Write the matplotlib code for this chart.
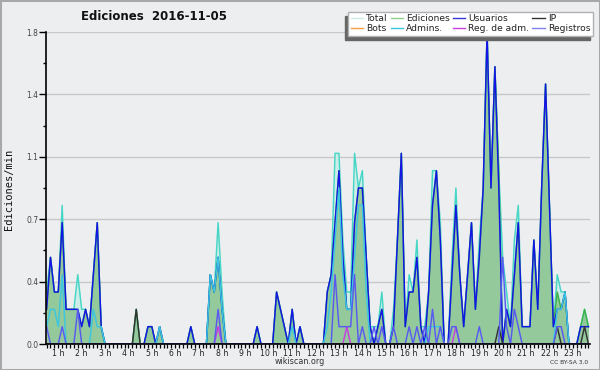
import numpy as np
import matplotlib
matplotlib.use("Agg")
import matplotlib.pyplot as plt
from matplotlib.lines import Line2D
from matplotlib.patches import Rectangle
from matplotlib.ticker import FixedLocator, FuncFormatter

# ---- data (10-minute bins, edits per minute) ----
hours = list(range(1, 24))
hour_labels = [f"{h} h" for h in hours]

total = [0.3, 0.5, 0.3, 0.3, 0.8, 0.2, 0.2, 0.2, 0.4, 0.2,
         0.2, 0.1, 0.4, 0.7, 0.1, 0, 0, 0, 0, 0,
         0, 0, 0, 0.2, 0, 0, 0.1, 0.1, 0, 0.1,
         0, 0, 0, 0, 0, 0, 0, 0.1, 0, 0,
         0, 0, 0.4, 0.3, 0.7, 0.3, 0, 0, 0, 0,
         0, 0, 0, 0, 0.1, 0, 0, 0, 0, 0.3,
         0.2, 0.1, 0, 0.2, 0, 0.1, 0, 0, 0, 0,
         0, 0, 0.3, 0.4, 1.1, 1.1, 0.6, 0.3, 0.3, 1.1,
         0.9, 1.0, 0.5, 0.1, 0.1, 0.1, 0.3, 0, 0, 0.2,
         0.6, 1.1, 0.1, 0.4, 0.3, 0.6, 0.1, 0.1, 0.3, 1.0,
         1.0, 0.7, 0, 0, 0.5, 0.9, 0.4, 0.1, 0.4, 0.7,
         0.2, 0.6, 0.9, 1.8, 0.9, 1.6, 1.0, 0.5, 0.3, 0.1,
         0.6, 0.8, 0.1, 0.1, 0.1, 0.6, 0.2, 0.9, 1.5, 0.8,
         0.1, 0.4, 0.3, 0.3, 0, 0, 0, 0.1, 0.2, 0.1]

ediciones = [0.2, 0.5, 0.3, 0.3, 0.7, 0.2, 0.2, 0.2, 0.2, 0.1,
             0.2, 0.1, 0.4, 0.7, 0.1, 0, 0, 0, 0, 0,
             0, 0, 0, 0.2, 0, 0, 0.1, 0.1, 0, 0.1,
             0, 0, 0, 0, 0, 0, 0, 0.1, 0, 0,
             0, 0, 0.4, 0.3, 0.5, 0.2, 0, 0, 0, 0,
             0, 0, 0, 0, 0.1, 0, 0, 0, 0, 0.3,
             0.2, 0.1, 0, 0.2, 0, 0.1, 0, 0, 0, 0,
             0, 0, 0.3, 0.4, 0.7, 1.0, 0.5, 0.2, 0.2, 0.7,
             0.9, 0.9, 0.5, 0.1, 0, 0.1, 0.2, 0, 0, 0.1,
             0.6, 1.1, 0.1, 0.3, 0.3, 0.5, 0.1, 0, 0.3, 0.8,
             1.0, 0.6, 0, 0, 0.4, 0.8, 0.4, 0.1, 0.4, 0.7,
             0.2, 0.5, 0.9, 1.8, 0.9, 1.6, 1.0, 0, 0.2, 0.1,
             0.4, 0.7, 0.1, 0.1, 0.1, 0.6, 0.2, 0.9, 1.5, 0.8,
             0.1, 0.3, 0.2, 0.3, 0, 0, 0, 0.1, 0.2, 0.1]

usuarios = [0.2, 0.5, 0.3, 0.3, 0.7, 0.2, 0.2, 0.2, 0.2, 0.1,
            0.2, 0.1, 0.4, 0.7, 0.1, 0, 0, 0, 0, 0,
            0, 0, 0, 0, 0, 0, 0.1, 0.1, 0, 0.1,
            0, 0, 0, 0, 0, 0, 0, 0.1, 0, 0,
            0, 0, 0.4, 0.3, 0.5, 0.2, 0, 0, 0, 0,
            0, 0, 0, 0, 0.1, 0, 0, 0, 0, 0.3,
            0.2, 0.1, 0, 0.2, 0, 0.1, 0, 0, 0, 0,
            0, 0, 0.3, 0.4, 0.7, 1.0, 0.5, 0.2, 0.2, 0.7,
            0.9, 0.9, 0.5, 0.1, 0, 0.1, 0.2, 0, 0, 0.1,
            0.6, 1.1, 0.1, 0.3, 0.3, 0.5, 0.1, 0, 0.3, 0.8,
            1.0, 0.6, 0, 0, 0.4, 0.8, 0.4, 0.1, 0.4, 0.7,
            0.2, 0.5, 0.9, 1.8, 0.9, 1.6, 0.9, 0, 0.2, 0.1,
            0.4, 0.7, 0.1, 0.1, 0.1, 0.6, 0.2, 0.9, 1.5, 0.8,
            0.1, 0.2, 0.2, 0.3, 0, 0, 0, 0.1, 0.1, 0.1]

ip = [0] * 23 + [0.2] + [0] * 92 + [0.1] + [0] * 14 + [0.1] + [0] * 6 + [0.1, 0]

bots = [0] * 140

admins = [0.1, 0.2, 0.2, 0.1, 0.4, 0, 0, 0, 0, 0,
          0, 0, 0.2, 0.1, 0.1, 0, 0, 0, 0, 0,
          0, 0, 0, 0, 0, 0, 0, 0, 0, 0.1,
          0, 0, 0, 0, 0, 0, 0, 0, 0, 0,
          0, 0, 0.4, 0.3, 0.5, 0.2, 0, 0, 0, 0,
          0, 0, 0, 0, 0, 0, 0, 0, 0, 0,
          0, 0, 0, 0.1, 0, 0, 0, 0, 0, 0,
          0, 0, 0.1, 0.3, 0.6, 0.9, 0.4, 0.2, 0.2, 0.5,
          0.8, 0.8, 0.3, 0, 0, 0, 0, 0, 0, 0,
          0, 0, 0, 0, 0, 0, 0, 0, 0.1, 0.1,
          0.1, 0.1, 0, 0, 0, 0, 0, 0, 0, 0,
          0, 0, 0, 0, 0, 0, 0, 0, 0, 0,
          0, 0, 0, 0, 0, 0, 0, 0, 0, 0,
          0, 0.2, 0.2, 0.3, 0, 0, 0, 0, 0, 0]

reg_adm = [0] * 44 + [0.1] + [0] * 32 + [0.1] + [0] * 27 + [0.1] + [0] * 34

registros = [0.1, 0, 0, 0, 0.1, 0, 0, 0, 0.2, 0,
             0, 0, 0, 0, 0, 0, 0, 0, 0, 0,
             0, 0, 0, 0, 0, 0, 0, 0, 0, 0,
             0, 0, 0, 0, 0, 0, 0, 0, 0, 0,
             0, 0, 0, 0, 0.2, 0, 0, 0, 0, 0,
             0, 0, 0, 0, 0, 0, 0, 0, 0, 0,
             0, 0, 0, 0, 0, 0, 0, 0, 0, 0,
             0, 0, 0, 0, 0.4, 0.1, 0.1, 0.1, 0.1, 0.4,
             0, 0.1, 0, 0, 0.1, 0, 0.1, 0, 0, 0.1,
             0, 0, 0, 0.1, 0, 0.1, 0, 0.1, 0, 0.2,
             0, 0.1, 0, 0, 0.1, 0.1, 0, 0, 0, 0,
             0, 0.1, 0, 0, 0, 0, 0, 0.5, 0.1, 0,
             0.2, 0.1, 0, 0, 0, 0, 0, 0, 0, 0,
             0, 0.1, 0.1, 0, 0, 0, 0, 0, 0, 0]

series_labels = ["Total", "Ediciones", "Usuarios", "IP",
                 "Bots", "Admins.", "Reg. de adm.", "Registros"]

# ---- styling ----
BG = "#edeef0"
c_total_fill = "#cdeee8"
c_total_line = "#45d6c6"
c_ed_fill = "#93c99b"
c_ed_line = "#3db24a"
c_us = "#1414e6"
c_ip = "#333333"
c_bots = "#f4a040"
c_adm = "#3cc6e0"
c_regadm = "#c83ee0"
c_reg = "#5a5af0"

fig = plt.figure(figsize=(6, 3.7), dpi=100, facecolor=BG)
ax = fig.add_axes([46 / 600, 1 - 344 / 370, 544 / 600, 312 / 370], facecolor=BG)

x = np.arange(len(total))

ax.fill_between(x, total, color=c_total_fill, lw=0, zorder=1)
ax.fill_between(x, ediciones, color=c_ed_fill, lw=0, zorder=1.1)
lw = 1.05
ax.plot(x, total, color=c_total_line, lw=lw, zorder=2)
ax.plot(x, ediciones, color=c_ed_line, lw=lw, zorder=2.1)
ax.plot(x, usuarios, color=c_us, lw=lw, zorder=2.2)
ax.plot(x, ip, color=c_ip, lw=lw, zorder=2.3)
ax.plot(x, bots, color=c_bots, lw=lw, zorder=2.0)
ax.plot(x, admins, color=c_adm, lw=lw, zorder=2.4)
ax.plot(x, reg_adm, color=c_regadm, lw=lw, zorder=2.5)
ax.plot(x, registros, color=c_reg, lw=lw, zorder=2.6)

ax.set_xlim(-0.15, 139.4)
ax.set_ylim(0, 1.8)

# y axis
yt = [0, 0.36, 0.72, 1.08, 1.44, 1.8]
ax.yaxis.set_major_locator(FixedLocator(yt))
ax.yaxis.set_minor_locator(FixedLocator([0.18, 0.54, 0.9, 1.26, 1.62]))
ax.yaxis.set_major_formatter(FuncFormatter(lambda v, p: f"{v:.1f}"))
ax.tick_params(axis="y", which="major", length=5, width=1, color="black",
               labelsize=5.5, labelcolor="#444444", pad=0.5)
ax.tick_params(axis="y", which="minor", length=2.4, width=1, color="black")
ax.yaxis.grid(True, which="major", color="#c8c8c8", lw=1, zorder=0.5)
ax.set_axisbelow(True)

# x axis
ax.xaxis.set_minor_locator(FixedLocator(list(range(len(total)))))
ax.xaxis.set_major_locator(FixedLocator([6 * h - 3 for h in hours]))
ax.set_xticklabels(hour_labels)
ax.tick_params(axis="x", which="both", length=2.6, width=0.9, color="black",
               direction="out")
ax.tick_params(axis="x", which="major", labelsize=5.6, labelcolor="#222222", pad=0.8)

for s in ["top", "right"]:
    ax.spines[s].set_visible(False)
for s in ["left", "bottom"]:
    ax.spines[s].set_linewidth(1.2)
    ax.spines[s].set_color("black")
    ax.spines[s].set_zorder(20)

# legend
colors = [c_total_fill, "#8fd08f", "#3535d5", c_ip, c_bots, c_adm, c_regadm, "#8080f0"]
handles = [Line2D([], [], color=c, lw=1) for c in colors]
order = [0, 4, 1, 5, 2, 6, 3, 7]
leg = ax.legend([handles[i] for i in order], [series_labels[i] for i in order],
                ncol=4, loc="upper right",
                bbox_to_anchor=(593 / 600, 1 - 11.5 / 370), bbox_transform=fig.transFigure,
                fontsize=6.6, frameon=True, fancybox=False, framealpha=1,
                facecolor="white", edgecolor="#b0b0b0",
                borderpad=0.3, labelspacing=0.1, handlelength=1.35,
                handletextpad=0.35, columnspacing=0.3, borderaxespad=0,
                shadow={"ox": -2.4, "oy": -3, "facecolor": "#666666",
                        "edgecolor": "#666666", "alpha": 1})
leg.set_zorder(30)
for t in leg.get_texts():
    t.set_color("#222222")

# texts
fig.text(154 / 600, 1 - 17 / 370, "Ediciones  2016-11-05", ha="center", va="center",
         fontsize=8.5, fontweight="bold", color="#111111")
fig.text(9 / 600, 1 - 189 / 370, "Ediciones/min", rotation=90, ha="center", va="center",
         fontsize=7.5, family="DejaVu Sans Mono", color="#111111")
fig.text(300 / 600, 1 - 361.5 / 370, "wikiscan.org", ha="center", va="center",
         fontsize=5.8, color="#333333")
fig.text(569 / 600, 1 - 362.5 / 370, "CC BY-SA 3.0", ha="center", va="center",
         fontsize=4.3, color="#333333")

fig.patches.append(Rectangle((0, 0), 1, 1, transform=fig.transFigure, fill=False,
                             edgecolor="#a8a8a8", lw=2.2))

fig.savefig("out.png", dpi=100, facecolor=BG)
